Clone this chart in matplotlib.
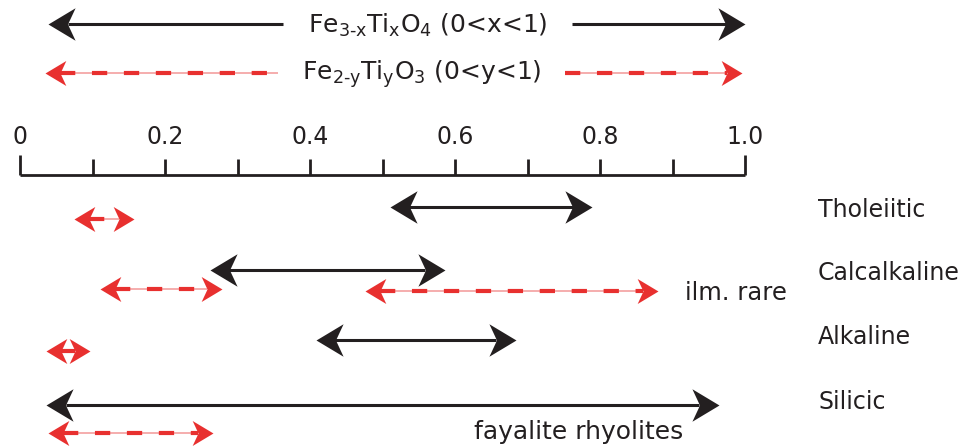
import numpy as np
import matplotlib.pyplot as plt
from matplotlib.path import Path

plt.rcParams['font.family'] = ['DejaVu Sans']
plt.rcParams['mathtext.default'] = 'regular'
plt.rcParams['lines.scale_dashes'] = False

# data: compositional ranges (x in titanomagnetite, y in ilmenite-hematite)
series = ['Tholeiitic', 'Calcalkaline', 'Alkaline', 'Silicic']
mt_lo = [0.51, 0.262, 0.408, 0.036]
mt_hi = [0.789, 0.586, 0.684, 0.964]
ilm_ranges = [[(0.074, 0.157)],
              [(0.11, 0.279), (0.476, 0.88)],
              [(0.036, 0.097)],
              [(0.039, 0.266)]]
full_mt = (0.039, 1.0)
full_ilm = (0.034, 0.996)
ticks = np.round(np.arange(0, 1.01, 0.1), 1)
tick_labels = ['0', '0.2', '0.4', '0.6', '0.8', '1.0']

BLACK = '#231f20'
RED = '#e8302f'
LIGHT_RED = '#f3a0a0'

# layout (pixel rows)
row_mt = [207, 270, 340, 405]
row_ilm = [[219], [289, 291], [351], [433]]
row_label = [210, 273, 337, 402]
y_top_mt, y_top_ilm = 24, 73
y_axis = 175
px_per_unit = 725.0

fig = plt.figure(figsize=(9.63, 4.48), dpi=100)
ax = fig.add_axes([0, 0, 1, 1])
ax.set_xlim(-20 / px_per_unit, 943 / px_per_unit)
ax.set_ylim(448, 0)
ax.axis('off')

head_r = Path([(0, 0), (-1, 0.6), (-0.72, 0), (-1, -0.6), (0, 0)],
              [Path.MOVETO, Path.LINETO, Path.LINETO, Path.LINETO, Path.CLOSEPOLY])
head_l = Path([(0, 0), (1, 0.6), (0.72, 0), (1, -0.6), (0, 0)],
              [Path.MOVETO, Path.LINETO, Path.LINETO, Path.LINETO, Path.CLOSEPOLY])


def inset(ms):
    return 0.72 * 0.5 * ms * (100 / 72) / px_per_unit


def arrow(x0, x1, y, kind, left=True, right=True):
    if kind == 'mt':
        ms, col = 39, BLACK
    else:
        ms, col = 30, RED
    a = x0 + (inset(ms) if left else 0)
    b = x1 - (inset(ms) if right else 0)
    if kind == 'mt':
        ax.plot([a, b], [y, y], color=col, lw=2.2, solid_capstyle='butt')
    else:
        ax.plot([a, b], [y, y], color=LIGHT_RED, lw=1.2, solid_capstyle='butt')
        ax.plot([a, b], [y, y], color=col, lw=3, dashes=(11, 12),
                dash_capstyle='butt')
    if left:
        ax.plot([x0], [y], marker=head_l, ms=ms, color=col, mew=0)
    if right:
        ax.plot([x1], [y], marker=head_r, ms=ms, color=col, mew=0)


# top full-range arrows with the formula in the gap
gap_mt = (0.363, 0.762)
gap_ilm = (0.356, 0.752)
arrow(full_mt[0], gap_mt[0], y_top_mt, 'mt', right=False)
arrow(gap_mt[1], full_mt[1], y_top_mt, 'mt', left=False)
arrow(full_ilm[0], gap_ilm[0], y_top_ilm, 'ilm', right=False)
arrow(gap_ilm[1], full_ilm[1], y_top_ilm, 'ilm', left=False)
ax.text(sum(gap_mt) / 2, y_top_mt + 1, r'Fe$_{3\text{-}x}$Ti$_x$O$_4$ (0<x<1)',
        ha='center', va='center', fontsize=18, color=BLACK)
ax.text(sum(gap_ilm) / 2, y_top_ilm + 1, r'Fe$_{2\text{-}y}$Ti$_y$O$_3$ (0<y<1)',
        ha='center', va='center', fontsize=18, color=BLACK)

# scale bar
ax.plot([ticks[0], ticks[-1]], [y_axis, y_axis], color=BLACK, lw=2, solid_capstyle='butt')
for t in ticks:
    top = y_axis - (20 if t in (0, 1) else 16)
    ax.plot([t, t], [y_axis, top], color=BLACK, lw=2, solid_capstyle='butt')
for t, lab in zip(ticks[::2], tick_labels):
    ax.text(t, 137, lab, ha='center', va='center', fontsize=17, color=BLACK)

# series arrows
for i, name in enumerate(series):
    arrow(mt_lo[i], mt_hi[i], row_mt[i], 'mt')
    for (lo, hi), y in zip(ilm_ranges[i], row_ilm[i]):
        arrow(lo, hi, y, 'ilm')
    ax.text(1.1007, row_label[i], name, ha='left', va='center', fontsize=17, color=BLACK)

ax.text(0.917, 293, 'ilm. rare', ha='left', va='center', fontsize=17.5, color=BLACK)
ax.text(0.77, 432, 'fayalite rhyolites', ha='center', va='center', fontsize=18, color=BLACK)

fig.savefig('out.png', dpi=100)
